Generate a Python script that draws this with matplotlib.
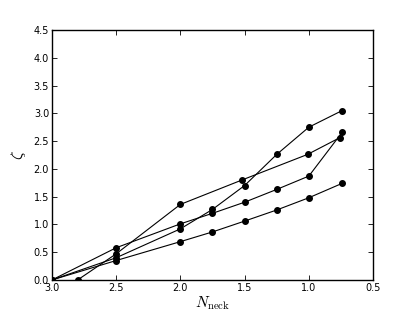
import matplotlib
matplotlib.use("Agg")
import matplotlib.pyplot as plt
import numpy as np

plt.rcParams['mathtext.fontset'] = 'cm'

# series (N_neck, zeta)
n_a = [2.8, 2.5, 2.0, 1.52, 1.01, 0.76]
z_a = [0.0, 0.47, 1.36, 1.80, 2.26, 2.56]

n_b = [3.0, 2.5, 2.0, 1.75, 1.5, 1.25, 1.0, 0.74]
z_b = [0.0, 0.40, 0.92, 1.27, 1.70, 2.26, 2.75, 3.05]

n_c = [3.0, 2.5, 2.0, 1.75, 1.5, 1.25, 1.0, 0.74]
z_c = [0.0, 0.58, 1.01, 1.20, 1.40, 1.63, 1.87, 2.66]

n_d = [3.0, 2.5, 2.0, 1.75, 1.5, 1.25, 1.0, 0.74]
z_d = [0.0, 0.35, 0.69, 0.865, 1.06, 1.26, 1.48, 1.74]

xticks = [3.0, 2.5, 2.0, 1.5, 1.0, 0.5]
yticks = np.arange(0, 4.51, 0.5)

fig = plt.figure(figsize=(4.15, 3.12), dpi=100)
ax = fig.add_axes([0.125, 0.1026, 0.774, 0.8014])

for n, z in [(n_a, z_a), (n_b, z_b), (n_c, z_c), (n_d, z_d)]:
    ax.plot(n, z, 'k-', marker='o', markersize=4, linewidth=0.8)

ax.set_xlim(3.0, 0.5)
ax.set_ylim(0, 4.5)
ax.set_xticks(xticks)
ax.set_yticks(yticks)
ax.set_xticklabels(['%.1f' % v for v in xticks])
ax.set_yticklabels(['%.1f' % v for v in yticks])
ax.tick_params(direction='in', top=True, right=True, length=3.5, width=0.6,
               labelsize=7, pad=2)
for s in ax.spines.values():
    s.set_linewidth(1.0)

ax.set_xlabel(r'$N_{\rm neck}$', fontsize=11, labelpad=1)
ax.set_ylabel(r'$\zeta$', fontsize=12, labelpad=4)

fig.savefig('out.png', dpi=100)
